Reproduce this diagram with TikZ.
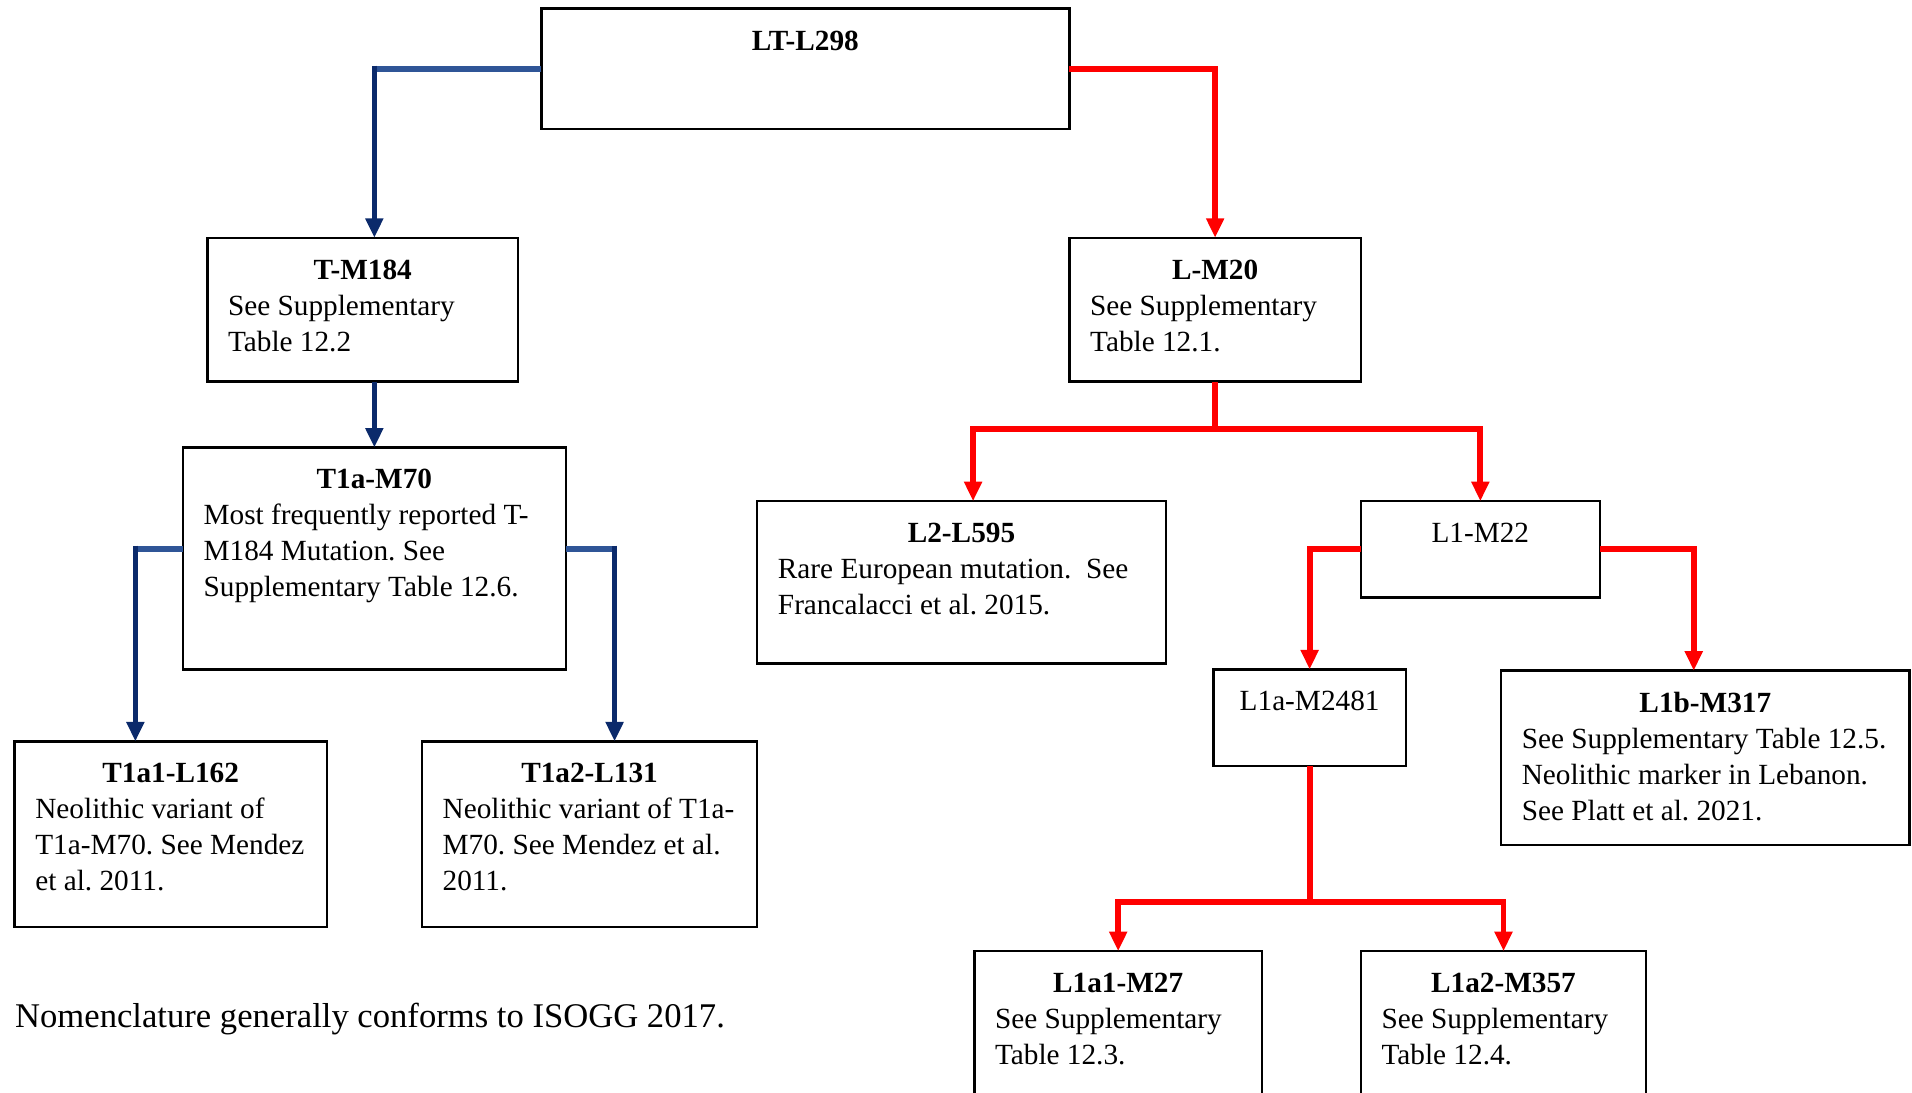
\documentclass[tikz,border=0pt]{standalone}
\usepackage{fontspec}
\setmainfont{Liberation Serif}
\usetikzlibrary{arrows.meta,calc}
\definecolor{navyc}{HTML}{0B2A6B}
\definecolor{steelc}{HTML}{2F5597}
\definecolor{redc}{HTML}{FF0000}
\frenchspacing
\newcommand{\boxtxt}[4]{%
 \begin{minipage}[t][#2][t]{#1}%
 \fontsize{12}{14.75}\selectfont\frenchspacing
 {\centering\rule{0pt}{17pt}#3\par}%
 \raggedright\leftskip=8.5pt #4%
 \end{minipage}}
\tikzset{
 gbox/.style={draw=black, line width=1pt, inner sep=0pt, outer sep=0pt, anchor=north west, rectangle},
 bstub/.style={draw=steelc, line width=2.6pt},
 bline/.style={draw=navyc, line width=2.2pt},
 barrow/.style={bline, -{Triangle[length=8pt,width=7pt]}},
 rline/.style={draw=redc, line width=2.4pt},
 rarrow/.style={rline, -{Triangle[length=8pt,width=7pt]}},
 notetext/.style={anchor=base west, inner sep=0pt, font=\fontsize{14.2}{17}\selectfont},
}
\begin{document}
\begin{tikzpicture}[x=0.5pt,y=-0.5pt]
\useasboundingbox (0,0) rectangle (1568,896);
\clip (0,0) rectangle (1568,896);

% boxes
\node[gbox] (lt) at (444,7) {\boxtxt{216.5pt}{49.5pt}{\textbf{LT-L298}}{}};
\node[gbox] (tm184) at (170,195) {\boxtxt{127.5pt}{59pt}{\textbf{T-M184}}{See Supplementary\\Table 12.2}};
\node[gbox] (t1am70) at (150,367) {\boxtxt{157pt}{91pt}{\textbf{T1a-M70}}{Most frequently reported T-\\M184 Mutation. See\\Supplementary Table 12.6.}};
\node[gbox] (t1a1) at (12,608) {\boxtxt{128pt}{76pt}{\textbf{T1a1-L162}}{Neolithic variant of\\T1a-M70. See Mendez\\et al. 2011.}};
\node[gbox] (t1a2) at (346,608) {\boxtxt{137.5pt}{76pt}{\textbf{T1a2-L131}}{Neolithic variant of T1a-\\M70. See Mendez et al.\\2011.}};
\node[gbox] (lm20) at (877,195) {\boxtxt{119.5pt}{59pt}{\textbf{L-M20}}{See Supplementary\\Table 12.1.}};
\node[gbox] (l2) at (621,411) {\boxtxt{167.5pt}{66.5pt}{\textbf{L2-L595}}{Rare European mutation.\ \ See\\Francalacci et al. 2015.}};
\node[gbox] (l1m22) at (1116,411) {\boxtxt{98pt}{39.5pt}{L1-M22}{}};
\node[gbox] (l1a) at (995,549) {\boxtxt{79pt}{39.5pt}{L1a-M2481}{}};
\node[gbox] (l1b) at (1231,550) {\boxtxt{167.5pt}{71.5pt}{\textbf{L1b-M317}}{See Supplementary Table 12.5.\\Neolithic marker in Lebanon.\\See Platt et al. 2021.}};
\node[gbox] (l27) at (799,780) {\boxtxt{118pt}{70pt}{\textbf{L1a1-M27}}{See Supplementary\\Table 12.3.}};
\node[gbox] (l357) at (1116,780) {\boxtxt{117pt}{70pt}{\textbf{L1a2-M357}}{See Supplementary\\Table 12.4.}};

\node[notetext] (note) at (12,843) {Nomenclature generally conforms to ISOGG 2017.};

% blue connectors
\coordinate (cLT) at (lt.west -| t1am70.north);
\draw[bstub] (lt.west) -- (cLT);
\draw[barrow] ([yshift=1.3pt]cLT) -- (t1am70.north |- tm184.north);
\draw[barrow] (tm184.south -| t1am70.north) -- (t1am70.north);

\coordinate (m70L) at ($(t1am70.north west)+(0,83)$);
\coordinate (m70R) at ($(t1am70.north east)+(0,83)$);
\coordinate (l162in) at ($(t1a1.north)+(-29,0)$);
\coordinate (l131in) at ($(t1a2.north)+(20.5,0)$);
\coordinate (cL) at (m70L -| l162in);
\coordinate (cR) at (m70R -| l131in);
\draw[bstub] (m70L) -- (cL);
\draw[barrow] ([yshift=1.3pt]cL) -- (l162in);
\draw[bstub] (m70R) -- (cR);
\draw[barrow] ([yshift=1.3pt]cR) -- (l131in);

% red connectors
\draw[rarrow] (lt.east) -| (lm20.north);
\coordinate (l595in) at ($(l2.north)+(9.5,0)$);
\coordinate (lbar) at ($(lm20.south)+(0,39)$);
\draw[rline] (lm20.south) -- (lbar);
\draw[rarrow] (lbar) -| (l595in);
\draw[rarrow] (lbar) -| (l1m22.north);

\coordinate (l317in) at ($(l1b.north)+(-9.5,0)$);
\draw[rarrow] (l1m22.west) -| (l1a.north);
\draw[rarrow] (l1m22.east) -| (l317in);

\coordinate (l1abar) at ($(l1a.south)+(0,112)$);
\draw[rline] (l1a.south) -- (l1abar);
\draw[rarrow] (l1abar) -| (l27.north);
\draw[rarrow] (l1abar) -| (l357.north);
\end{tikzpicture}
\end{document}
